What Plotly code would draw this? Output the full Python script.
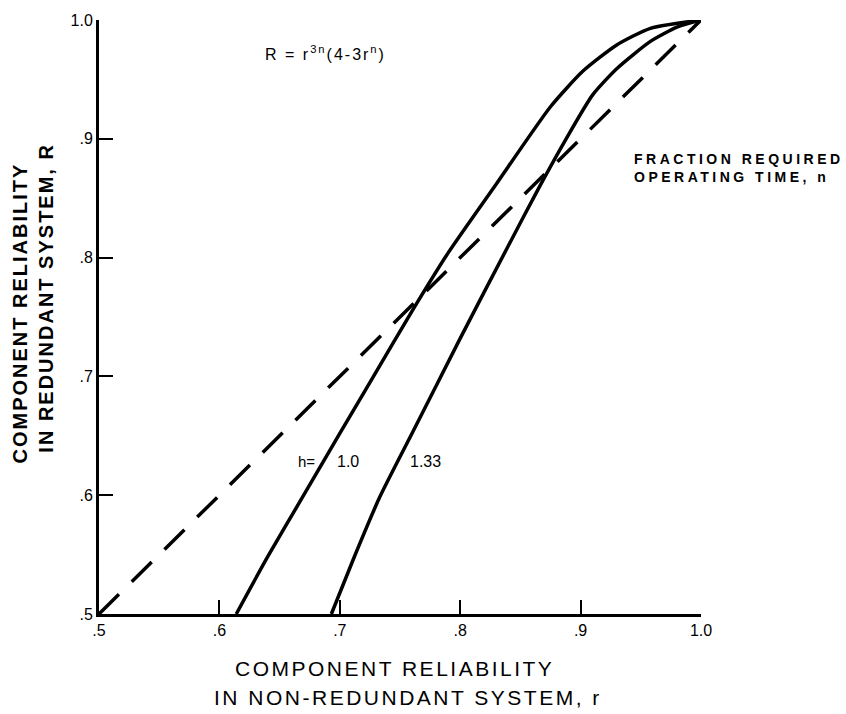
import plotly.graph_objects as go

# Data
r_n100 = [0.614, 0.64, 0.67, 0.70, 0.728, 0.76, 0.79, 0.83, 0.875, 0.902, 0.93, 0.958, 1.0]
R_n100 = [0.50, 0.548, 0.60, 0.652, 0.70, 0.755, 0.804, 0.862, 0.927, 0.957, 0.979, 0.993, 1.0]

r_n133 = [0.693, 0.712, 0.733, 0.761, 0.80, 0.84, 0.866, 0.888, 0.91, 0.93, 0.958, 0.98, 1.0]
R_n133 = [0.50, 0.548, 0.598, 0.654, 0.732, 0.810, 0.860, 0.900, 0.937, 0.959, 0.982, 0.994, 1.0]

r_ref = [0.5, 1.0]
R_ref = [0.5, 1.0]

tick_vals = [0.5, 0.6, 0.7, 0.8, 0.9, 1.0]
tick_text = [".5", ".6", ".7", ".8", ".9", "1.0"]

FONT = "Liberation Sans"

fig = go.Figure()
fig.add_trace(go.Scatter(x=r_ref, y=R_ref, mode="lines",
                         line=dict(color="black", width=3.5, dash="28px,18px"),
                         showlegend=False, hoverinfo="skip"))
fig.add_trace(go.Scatter(x=r_n100, y=R_n100, mode="lines",
                         line=dict(color="black", width=3.5, shape="spline", smoothing=0.6),
                         showlegend=False))
fig.add_trace(go.Scatter(x=r_n133, y=R_n133, mode="lines",
                         line=dict(color="black", width=3.5, shape="spline", smoothing=0.6),
                         showlegend=False))

axis_common = dict(
    range=[0.5, 1.0], tickvals=tick_vals, ticktext=tick_text,
    showline=True, linecolor="black", linewidth=3,
    ticks="inside", ticklen=14, tickwidth=2, tickcolor="black",
    showgrid=False, zeroline=False,
    tickfont=dict(family=FONT, size=16, color="black"),
)
fig.update_xaxes(**axis_common)
fig.update_yaxes(**axis_common)


def ls(text, px):
    return "<span style='letter-spacing:%spx'>%s</span>" % (px, text)


annotations = [
    dict(text=ls("R = r<sup>3n</sup>(4-3r<sup>n</sup>)", 2), x=0.636, y=0.972, xref="x", yref="y",
         xanchor="left", yanchor="middle", showarrow=False,
         font=dict(family=FONT, size=16, color="black")),
    dict(text="<b>" + ls("FRACTION REQUIRED", 3.5) + "<br>" + ls("OPERATING TIME, n", 3.5) + "</b>",
         x=0.9427, y=0.8756, xref="x", yref="y", xanchor="left", yanchor="middle",
         align="left", showarrow=False,
         font=dict(family=FONT, size=14, color="black")),
    dict(text="h=", x=0.6636, y=0.6286, xref="x", yref="y", xanchor="left", yanchor="middle",
         showarrow=False, font=dict(family=FONT, size=15, color="black")),
    dict(text="1.0", x=0.696, y=0.6286, xref="x", yref="y", xanchor="left", yanchor="middle",
         showarrow=False, font=dict(family=FONT, size=16, color="black")),
    dict(text="1.33", x=0.7566, y=0.6286, xref="x", yref="y", xanchor="left", yanchor="middle",
         showarrow=False, font=dict(family=FONT, size=16, color="black")),
    # y-axis title lines
    dict(text="<b>" + ls("COMPONENT RELIABILITY", 2) + "</b>", x=0, y=(614 - 311) / 599,
         xref="paper", yref="paper", xanchor="center", yanchor="middle", xshift=20 - 99,
         textangle=-90, showarrow=False, font=dict(family=FONT, size=20, color="black")),
    dict(text="<b>" + ls("IN REDUNDANT SYSTEM, R", 2) + "</b>", x=0, y=(614 - 295) / 599,
         xref="paper", yref="paper", xanchor="center", yanchor="middle", xshift=46 - 99,
         textangle=-90, showarrow=False, font=dict(family=FONT, size=20, color="black")),
    # x-axis title lines
    dict(text=ls("COMPONENT RELIABILITY", 2.5), x=(394 - 99) / 602, y=0, xref="paper", yref="paper",
         xanchor="center", yanchor="middle", yshift=-(668 - 614), showarrow=False,
         font=dict(family=FONT, size=21, color="black")),
    dict(text=ls("IN NON-REDUNDANT SYSTEM, r", 2.5), x=(408 - 99) / 602, y=0, xref="paper",
         yref="paper", xanchor="center", yanchor="middle", yshift=-(697 - 614), showarrow=False,
         font=dict(family=FONT, size=21, color="black")),
]

fig.update_layout(
    width=846, height=714,
    margin=dict(l=99, r=145, t=15, b=100),
    plot_bgcolor="white", paper_bgcolor="white",
    annotations=annotations,
    showlegend=False,
)

fig.write_html("out.html")
